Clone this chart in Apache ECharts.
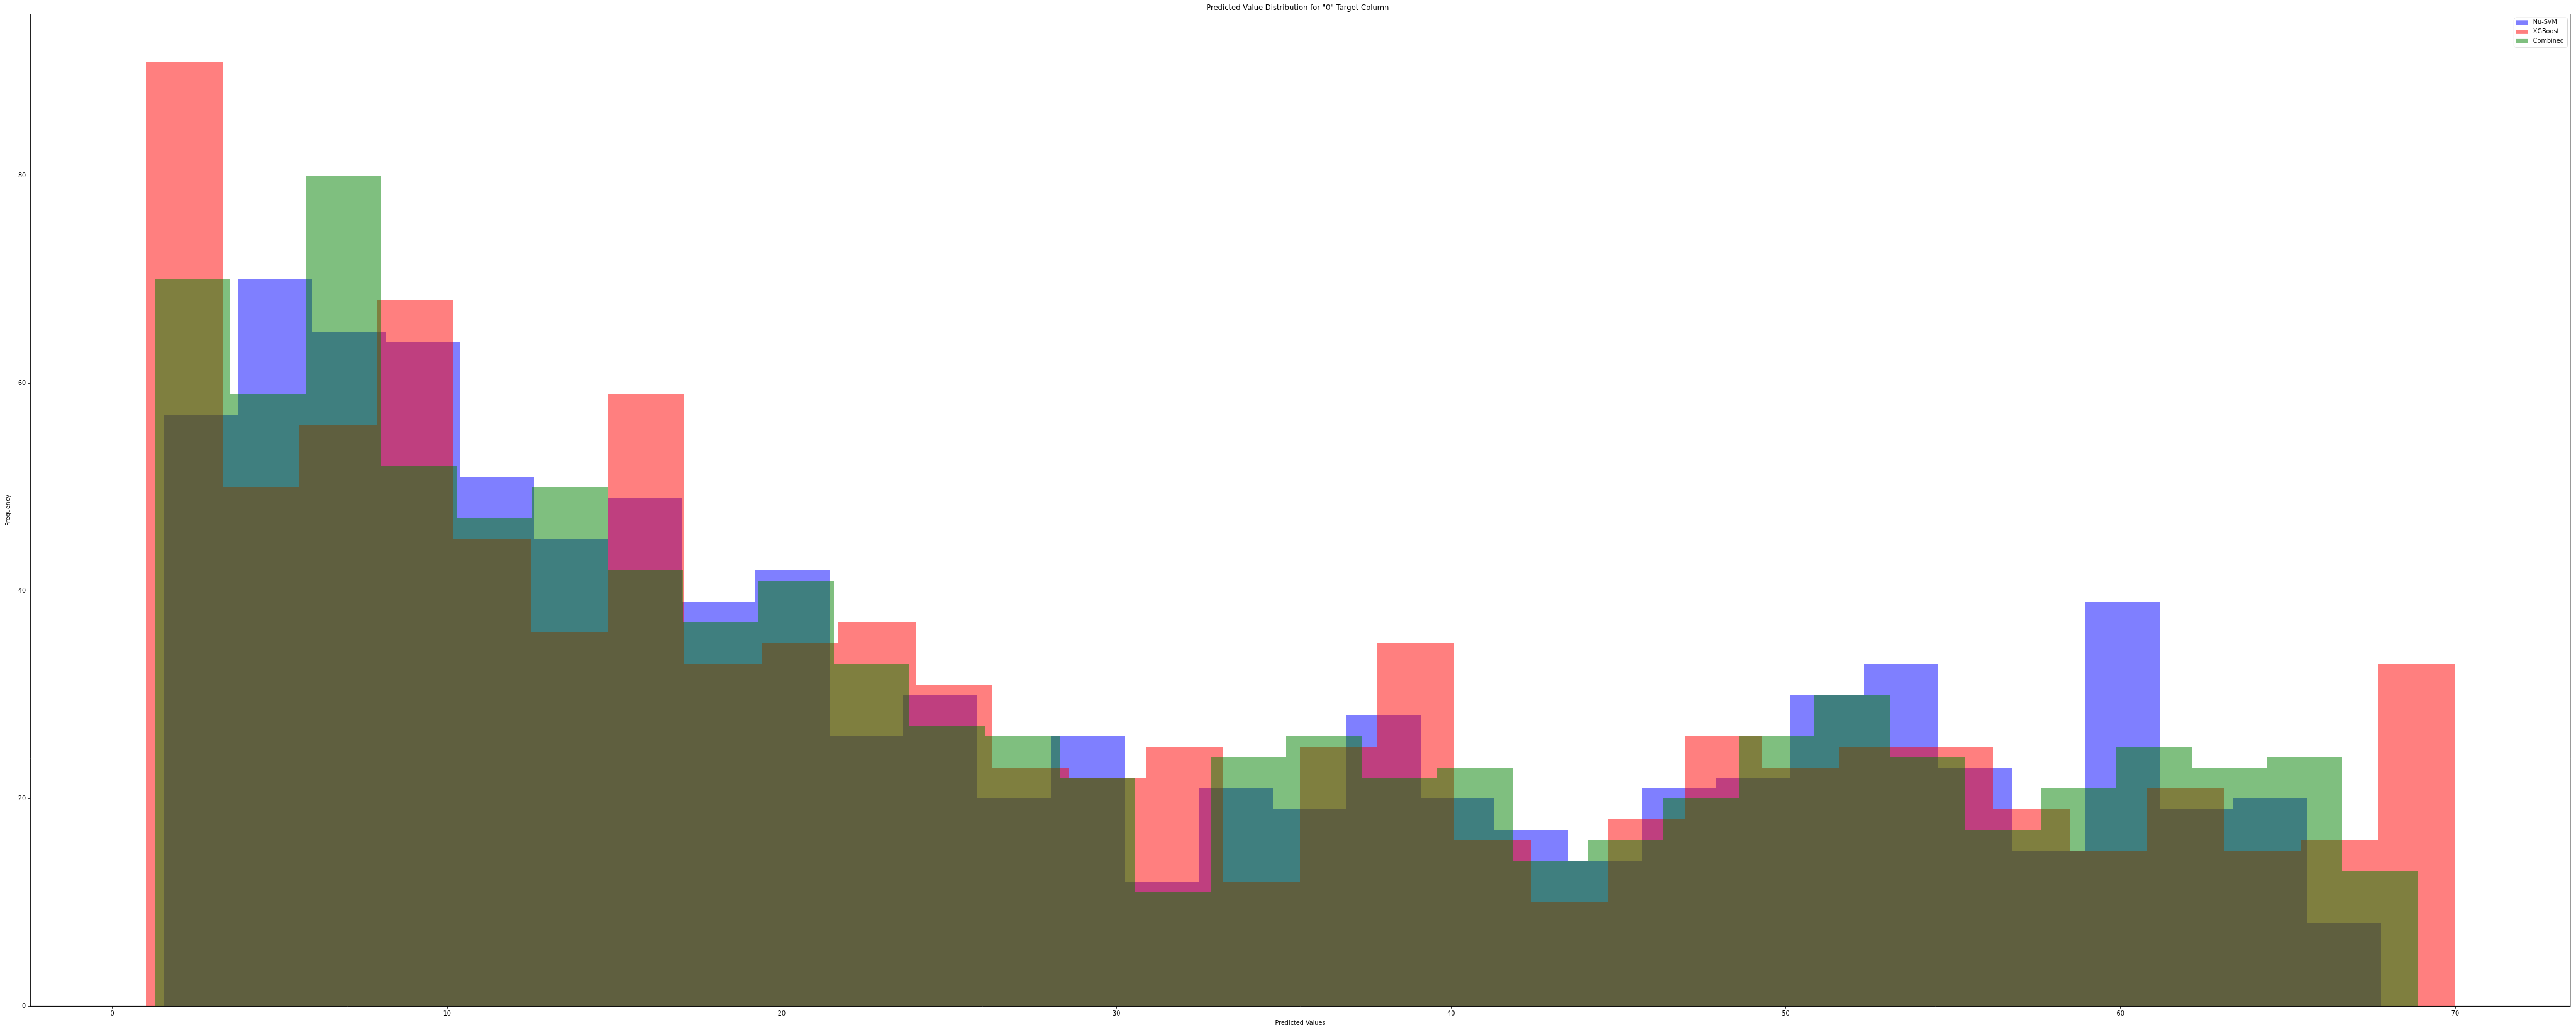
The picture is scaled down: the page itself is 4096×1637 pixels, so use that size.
<!DOCTYPE html>
<html>
<head>
<meta charset="utf-8">
<script src="https://cdn.jsdelivr.net/npm/echarts@6/dist/echarts.min.js"></script>
<style>
  html, body { margin: 0; padding: 0; background: #ffffff; }
  #chart { width: 4096px; height: 1637px; }
</style>
</head>
<body>
<div id="chart"></div>
<script>
// ---- data (30-bin histograms) ----
const seriesNames = ['Nu-SVM', 'XGBoost', 'Combined'];
const nuSvmRange = [1.547, 67.79];
const nuSvmCounts = [57, 70, 65, 64, 51, 45, 49, 39, 42, 26, 30, 20, 26, 12, 21, 19, 28, 20, 17, 14, 21, 22, 30, 33, 23, 15, 39, 19, 20, 8];
const xgbRange = [0.995, 69.99];
const xgbCounts = [91, 50, 56, 68, 45, 36, 59, 33, 35, 37, 31, 23, 22, 25, 12, 25, 35, 16, 10, 18, 26, 23, 25, 25, 19, 15, 21, 15, 16, 33];
const combinedRange = [1.271, 68.88];
const combinedCounts = [70, 59, 80, 52, 47, 50, 42, 37, 41, 33, 27, 26, 22, 11, 24, 26, 22, 23, 14, 16, 20, 26, 30, 24, 17, 21, 25, 23, 24, 13];
const xTicks = [0, 10, 20, 30, 40, 50, 60, 70];
const yTicks = [0, 20, 40, 60, 80];
const xLimits = [-2.455, 73.44];
const yLimits = [0, 95.55];

function histData(range, counts) {
  const n = counts.length;
  const w = (range[1] - range[0]) / n;
  return counts.map((c, i) => [range[0] + i * w, range[0] + (i + 1) * w, c]);
}

function renderItem(params, api) {
  const p0 = api.coord([api.value(0), api.value(2)]);
  const p1 = api.coord([api.value(1), 0]);
  const x0 = Math.round(p0[0]), x1 = Math.round(p1[0]);
  const y0 = Math.round(p0[1]), y1 = Math.round(p1[1]);
  return {
    type: 'rect',
    shape: { x: x0, y: y0, width: x1 - x0, height: y1 - y0 },
    style: { fill: api.visual('color') }
  };
}

const FONT = '"DejaVu Sans", "Liberation Sans", sans-serif';
const S = 0.967;

function hist(name, range, counts, color) {
  return {
    name: name,
    type: 'custom',
    renderItem: renderItem,
    encode: { x: [0, 1], y: 2 },
    itemStyle: { color: color },
    data: histData(range, counts),
    silent: true
  };
}

const chart = echarts.init(document.getElementById('chart'), null, { renderer: 'canvas' });
chart.setOption({
  animation: false,
  backgroundColor: '#ffffff',
  grid: {
    left: 39.6, top: 22.5, right: 9.0, bottom: 37.6,
    show: true, borderColor: '#000000', borderWidth: 0.8, backgroundColor: 'transparent'
  },
  graphic: [{
    type: 'text',
    x: 2063.3, y: 12.6,
    style: {
      text: 'Predicted Value Distribution for "0" Target Column',
      fontSize: 12 * S, fontFamily: FONT, fill: '#000000',
      align: 'center', verticalAlign: 'middle'
    }
  }],
  legend: {
    data: seriesNames,
    orient: 'vertical',
    right: 13.5, top: 28.2,
    align: 'left',
    icon: 'rect',
    itemWidth: 19.1, itemHeight: 6.8,
    itemGap: 2.8,
    padding: [1.5, 5.6, 3.9, 3.4],
    borderColor: '#cccccc', borderWidth: 0.8, borderRadius: 3,
    backgroundColor: 'rgba(255,255,255,0.8)',
    textStyle: { fontSize: 10 * S, fontFamily: FONT, color: '#000000', lineHeight: 12, padding: [0, 0, 0, 3] },
    selectedMode: false
  },
  xAxis: {
    type: 'value',
    min: xLimits[0], max: xLimits[1],
    z: 10,
    name: 'Predicted Values',
    nameLocation: 'middle',
    nameGap: 25,
    nameTextStyle: { fontSize: 10 * S, fontFamily: FONT, color: '#000000', verticalAlign: 'middle' },
    axisLine: { show: true, onZero: false, lineStyle: { color: '#000000', width: 0.8 } },
    axisTick: { show: true, inside: false, length: 3.5 * S, customValues: xTicks, lineStyle: { color: '#000000', width: 0.8 } },
    axisLabel: { show: true, margin: 7 * S, customValues: xTicks, fontSize: 10 * S, fontFamily: FONT, color: '#000000' },
    splitLine: { show: false }
  },
  yAxis: {
    type: 'value',
    min: yLimits[0], max: yLimits[1],
    z: 10,
    name: 'Frequency',
    nameLocation: 'middle',
    nameGap: 28,
    nameTextStyle: { fontSize: 10 * S, fontFamily: FONT, color: '#000000', verticalAlign: 'middle' },
    axisLine: { show: true, onZero: false, lineStyle: { color: '#000000', width: 0.8 } },
    axisTick: { show: true, inside: false, length: 3.5 * S, customValues: yTicks, lineStyle: { color: '#000000', width: 0.8 } },
    axisLabel: { show: true, margin: 7 * S, customValues: yTicks, fontSize: 10 * S, fontFamily: FONT, color: '#000000' },
    splitLine: { show: false }
  },
  series: [
    hist(seriesNames[0], nuSvmRange, nuSvmCounts, 'rgba(0,0,255,0.5)'),
    hist(seriesNames[1], xgbRange, xgbCounts, 'rgba(255,0,0,0.5)'),
    hist(seriesNames[2], combinedRange, combinedCounts, 'rgba(0,128,0,0.5)')
  ]
});
</script>
</body>
</html>
